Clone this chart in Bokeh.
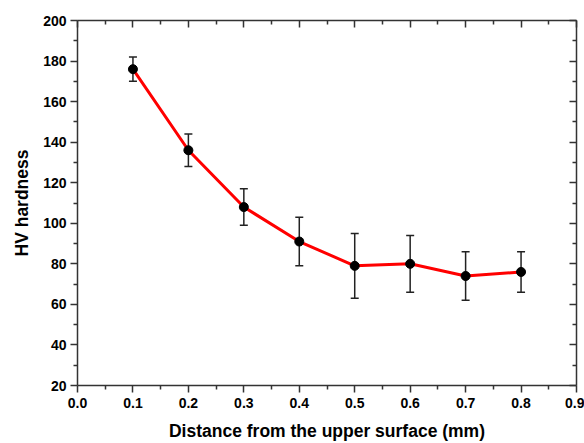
from bokeh.plotting import figure
from bokeh.models import (ColumnDataSource, Whisker, TeeHead, LinearAxis, FixedTicker,
                          Range1d, CustomLabelingPolicy)
from bokeh.embed import file_html
from bokeh.resources import INLINE

# Data
distance = [0.1, 0.2, 0.3, 0.4, 0.5, 0.6, 0.7, 0.8]
hardness = [176, 136, 108, 91, 79, 80, 74, 76]
err_upper = [182, 144, 117, 103, 95, 94, 86, 86]
err_lower = [170, 128, 99, 79, 63, 66, 62, 66]

x_ticks = [0.0, 0.1, 0.2, 0.3, 0.4, 0.5, 0.6, 0.7, 0.8, 0.9]
x_minor = [0.05, 0.15, 0.25, 0.35, 0.45, 0.55, 0.65, 0.75, 0.85]
x_labels = ["0.0", "0.1", "0.2", "0.3", "0.4", "0.5", "0.6", "0.7", "0.8", "0.9"]
y_ticks = [20, 40, 60, 80, 100, 120, 140, 160, 180, 200]
y_minor = [30, 50, 70, 90, 110, 130, 150, 170, 190]

x_title = "Distance from the upper surface (mm)"
y_title = "HV hardness"

FONT = "Liberation Sans"
AX_COLOR = "#333333"

p = figure(width=584, height=443, output_backend="svg", toolbar_location=None,
           x_range=Range1d(0, 0.9), y_range=Range1d(20, 200),
           min_border_left=77, min_border_right=8, min_border_top=20, min_border_bottom=56)
p.outline_line_color = None
p.xgrid.visible = False
p.ygrid.visible = False
p.background_fill_color = "white"
p.border_fill_color = "white"

src = ColumnDataSource(dict(x=distance, y=hardness, upper=err_upper, lower=err_lower))

p.line("x", "y", source=src, line_color="#ff0000", line_width=3)
w = Whisker(base="x", upper="upper", lower="lower", source=src,
            line_color="#222222", line_width=1.5,
            upper_head=TeeHead(size=8, line_color="#222222", line_width=1.5),
            lower_head=TeeHead(size=8, line_color="#222222", line_width=1.5))
p.add_layout(w)
p.scatter("x", "y", source=src, size=9, fill_color="black", line_color="black")

xt = FixedTicker(ticks=x_ticks, minor_ticks=x_minor)
yt = FixedTicker(ticks=y_ticks, minor_ticks=y_minor)

def style(ax):
    ax.axis_line_color = AX_COLOR
    ax.axis_line_width = 1.5
    ax.major_tick_line_color = AX_COLOR
    ax.minor_tick_line_color = AX_COLOR
    ax.major_tick_line_width = 1.5
    ax.minor_tick_line_width = 1.5
    ax.major_label_text_font = FONT
    ax.major_label_text_font_style = "bold"
    ax.major_label_text_font_size = "14px"
    ax.major_label_text_color = "black"
    ax.axis_label_text_font = FONT
    ax.axis_label_text_font_style = "bold"
    ax.axis_label_text_font_size = "17.5px"
    ax.axis_label_text_color = "black"

xa = p.xaxis[0]
xa.ticker = xt
xa.major_label_overrides = {t: l for t, l in zip(x_ticks, x_labels)}
xa.axis_label = x_title
style(xa)
xa.major_tick_out = 7
xa.major_tick_in = 0
xa.minor_tick_out = 4
xa.minor_tick_in = 0
xa.major_label_standoff = 5
xa.axis_label_standoff = 10

ya = p.yaxis[0]
ya.ticker = yt
ya.axis_label = y_title
style(ya)
ya.major_tick_out = 7
ya.major_tick_in = 0
ya.minor_tick_out = 4
ya.minor_tick_in = 0
ya.major_label_standoff = 4
ya.axis_label_standoff = 8

no_labels = """
for (const i of indices) { indices.unset(i) }
return indices
"""

def mirror(ticks, minor, loc):
    ax = LinearAxis(ticker=FixedTicker(ticks=ticks, minor_ticks=minor),
                    major_label_policy=CustomLabelingPolicy(code=no_labels))
    style(ax)
    ax.major_label_text_font_size = "0px"
    ax.major_label_standoff = 0
    ax.major_tick_in = 7
    ax.major_tick_out = 0
    ax.minor_tick_in = 4
    ax.minor_tick_out = 0
    p.add_layout(ax, loc)

mirror(x_ticks, x_minor, "above")
mirror(y_ticks, y_minor, "right")

open("out.html", "w").write(file_html(p, INLINE))
